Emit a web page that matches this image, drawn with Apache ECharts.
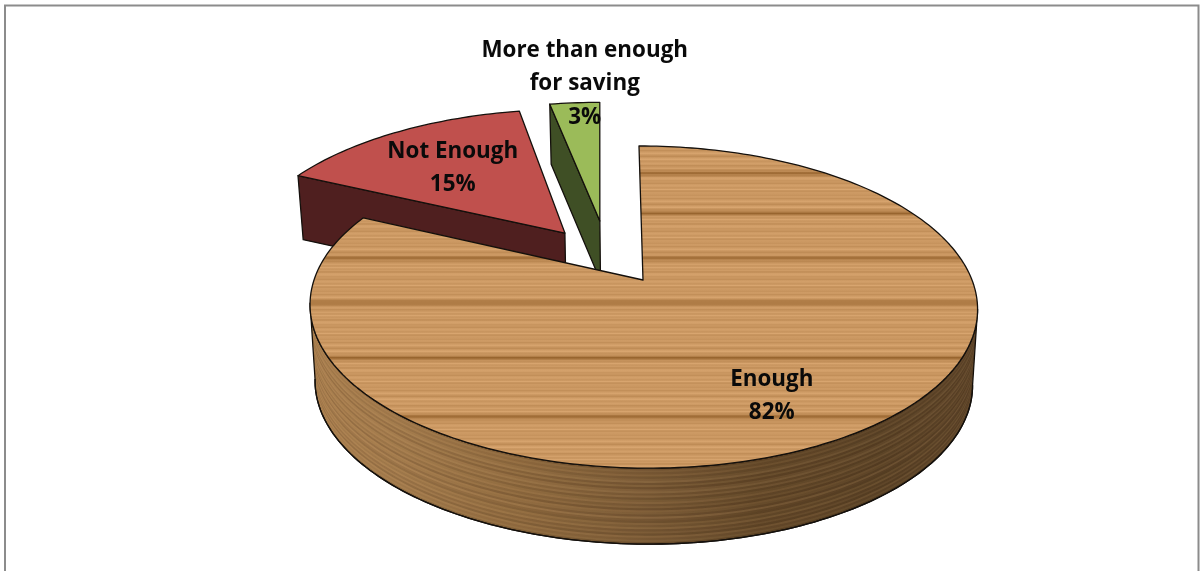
<!DOCTYPE html>
<html>
<head>
<meta charset="utf-8">
<style>html,body{margin:0;padding:0;background:#fff}#c{width:1200px;height:571px}</style>
<script src="https://cdn.jsdelivr.net/npm/echarts@6/dist/echarts.min.js"></script>
</head>
<body>
<div id="c"></div>
<script>
// ---- data ----
var categories = ['Enough', 'Not Enough', 'More than enough\nfor saving'];
var shares = [82, 15, 3];

// ---- appearance ----
var topColors = [null, '#c0504d', '#9bbb59'];
var wallColors = ['#6b4d2c', '#4f1f1f', '#3f4f25'];
var edgeColor = '#14100c';
var cx = 643, cyC = 280, radiusX = 329, tiltQ = 109.5, persp = -0.168, shrink = 0.015;
var depths = [76, 64, 60];
var explodeU = [0, -0.25, -0.14];
var explodeV = [0, -0.316, -0.402];
var radiusScale = [1, 1.02, 1];
var lean = [0.03, 0.04, 0.05];
var labelRadius = [0.74, 0.66, 1.21];
var labelNudge = [[-17, 7], [-1.5, 3], [7.5, 2]];
var paintOrder = [30, 10, 20];

// wood grain of the top face: a repeating fine tone list plus the dark streaks
var fineTones = [0,-5,6,-9,3,11,-3,-12,5,13,-6,2,9,-10,-2,8,-7,12,-4,3,-13,6,10,-3,0,-9,8,4,-6,13,-11,2];
var streakY = [173, 213, 258, 303, 358, 417];
var baseWood = [203, 152, 98];
var woodTop = 146, woodBottom = 470;
// grain of the rim, top edge to bottom edge
var rimTones = [-0.14,0.05,-0.04,0.08,-0.08,0.03,0.12,-0.10,0.06,-0.14,0.04,0.12,-0.05,0.09,-0.12,0.02,0.10,-0.07,0.05,-0.15,0.08,0.03,-0.10,0.13,-0.05,-0.12,0.07,-0.03,0.11,-0.09,0.04,-0.13,0.10,-0.02,0.06,-0.16];
var rimShade = [[310,'#ab8050'],[400,'#a27a4c'],[520,'#8f6a3f'],[640,'#7a5a36'],[760,'#634829'],[880,'#5a4226'],[978,'#5d4429']];

var total = shares.reduce(function(a,b){return a+b;},0);
var starts = shares.map(function(s,i){return shares.slice(0,i).reduce(function(a,b){return a+b;},0);});

function project(u, v){
  var w = 1 + persp * v;
  return {x: cx + radiusX * u / w, y: (cyC + tiltQ * v) / w};
}
function lower(p, depth, t){
  return [cx + (p.x - cx) * (1 - shrink * t), p.y + depth * t];
}
function discPoint(i, ang, r){
  var p = project(explodeU[i] + r * radiusScale[i] * Math.sin(ang), explodeV[i] - r * radiusScale[i] * Math.cos(ang));
  var a = project(explodeU[i], explodeV[i]);
  return {x: p.x - lean[i] * (a.y - p.y), y: p.y};
}
function woodGradient(){
  var stops = [], n = fineTones.length;
  for (var y = woodTop, k = 0; y <= woodBottom; y += 1.5, k++) {
    var d = fineTones[k % n];
    streakY.forEach(function(s){
      var dist = Math.abs(y - s);
      if (dist < 5) d -= 42 * (1 - dist / 5) * (1 - dist / 5) + 8 * (1 - dist / 5);
    });
    var c = baseWood.map(function(b){return Math.round(b + d);});
    stops.push({offset:(y - woodTop)/(woodBottom - woodTop), color:'rgb('+c.join(',')+')'});
  }
  return {type:'linear', x:0, y:woodTop, x2:0, y2:woodBottom, global:true, colorStops:stops};
}
function rimGradient(){
  var x0 = rimShade[0][0], x1 = rimShade[rimShade.length-1][0];
  return {type:'linear', x:x0, y:0, x2:x1, y2:0, global:true,
    colorStops: rimShade.map(function(g){return {offset:(g[0]-x0)/(x1-x0), color:g[1]};})};
}

function renderSlice(params, api){
  var i = params.dataIndex;
  var value = api.value(0);
  var a0 = starts[i] / total * 2 * Math.PI;
  var a1 = (starts[i] + value) / total * 2 * Math.PI;
  var steps = Math.max(8, Math.round((a1 - a0) * 48));
  var arc = [];
  for (var k = 0; k <= steps; k++) arc.push(discPoint(i, a0 + (a1 - a0) * k / steps, 1));
  var apex = discPoint(i, 0, 0);
  var depth = depths[i];
  var z = paintOrder[i];
  var kids = [];
  function band(pts, t0, t1){
    var up = pts.map(function(p){return lower(p, depth, t0);});
    var dn = pts.map(function(p){return lower(p, depth, t1);}).reverse();
    return up.concat(dn);
  }
  var edge = {stroke: edgeColor, lineWidth: 1.3, lineJoin: 'round'};
  if (i === 0) {
    // outer rim: only the near part of the arc, between its two horizontal extremes
    var hi = 0, lo = 0;
    arc.forEach(function(p, n){ if (p.x > arc[hi].x) hi = n; if (p.x < arc[lo].x) lo = n; });
    var near = arc.slice(hi, lo + 1);
    kids.push({type:'polygon', z2:z+1, shape:{points:band(near,0,1)},
      style:Object.assign({fill: rimGradient()}, edge)});
    rimTones.forEach(function(tone, n){
      kids.push({type:'polygon', z2:z+1, shape:{points:band(near, n/rimTones.length, (n+1)/rimTones.length)},
        style:{fill: tone < 0 ? 'rgba(40,22,8,'+(-tone)+')' : 'rgba(225,180,120,'+tone+')', stroke:null}});
    });
    kids.push({type:'polyline', z2:z+1, shape:{points:near.map(function(p){return lower(p,depth,1);})},
      style:{fill:null, stroke:edgeColor, lineWidth:1.3}});
  } else {
    // the cut wall that faces the viewer on an exploded slice
    kids.push({type:'polygon', z2:z, shape:{points:band([arc[0], apex],0,1)},
      style:Object.assign({fill:wallColors[i]}, edge)});
  }
  // top face
  var topPts = arc.map(function(p){return [p.x,p.y];});
  topPts.push([apex.x, apex.y]);
  kids.push({type:'polygon', z2:z+2, shape:{points:topPts},
    style:Object.assign({fill: i === 0 ? woodGradient() : topColors[i]}, edge)});
  // label
  var mid = (a0 + a1) / 2;
  var anchor = project(explodeU[i] + labelRadius[i] * Math.sin(mid), explodeV[i] - labelRadius[i] * Math.cos(mid));
  kids.push({type:'text', z2:100, x:anchor.x + labelNudge[i][0], y:anchor.y + labelNudge[i][1], style:{
    text: categories[i] + '\n' + value + '%',
    fontFamily:'"Open Sans", "Noto Sans", sans-serif', fontWeight:700, fontSize:22.4,
    lineHeight:33.5, fill:'#0a0a0a', align:'center', verticalAlign:'middle'}});
  return {type:'group', children:kids};
}

var chart = echarts.init(document.getElementById('c'), null, {renderer:'canvas'});
chart.setOption({
  animation:false,
  backgroundColor:'#ffffff',
  graphic:[{type:'rect', silent:true, shape:{x:5,y:5.5,width:1193.5,height:600},
    style:{fill:null, stroke:'#8c8c8c', lineWidth:2}}],
  series:[{
    type:'custom', coordinateSystem:'none', silent:true, clip:false,
    renderItem:renderSlice,
    data:shares.map(function(s,i){return {value:[s], name:categories[i]};})
  }]
});
</script>
</body>
</html>
